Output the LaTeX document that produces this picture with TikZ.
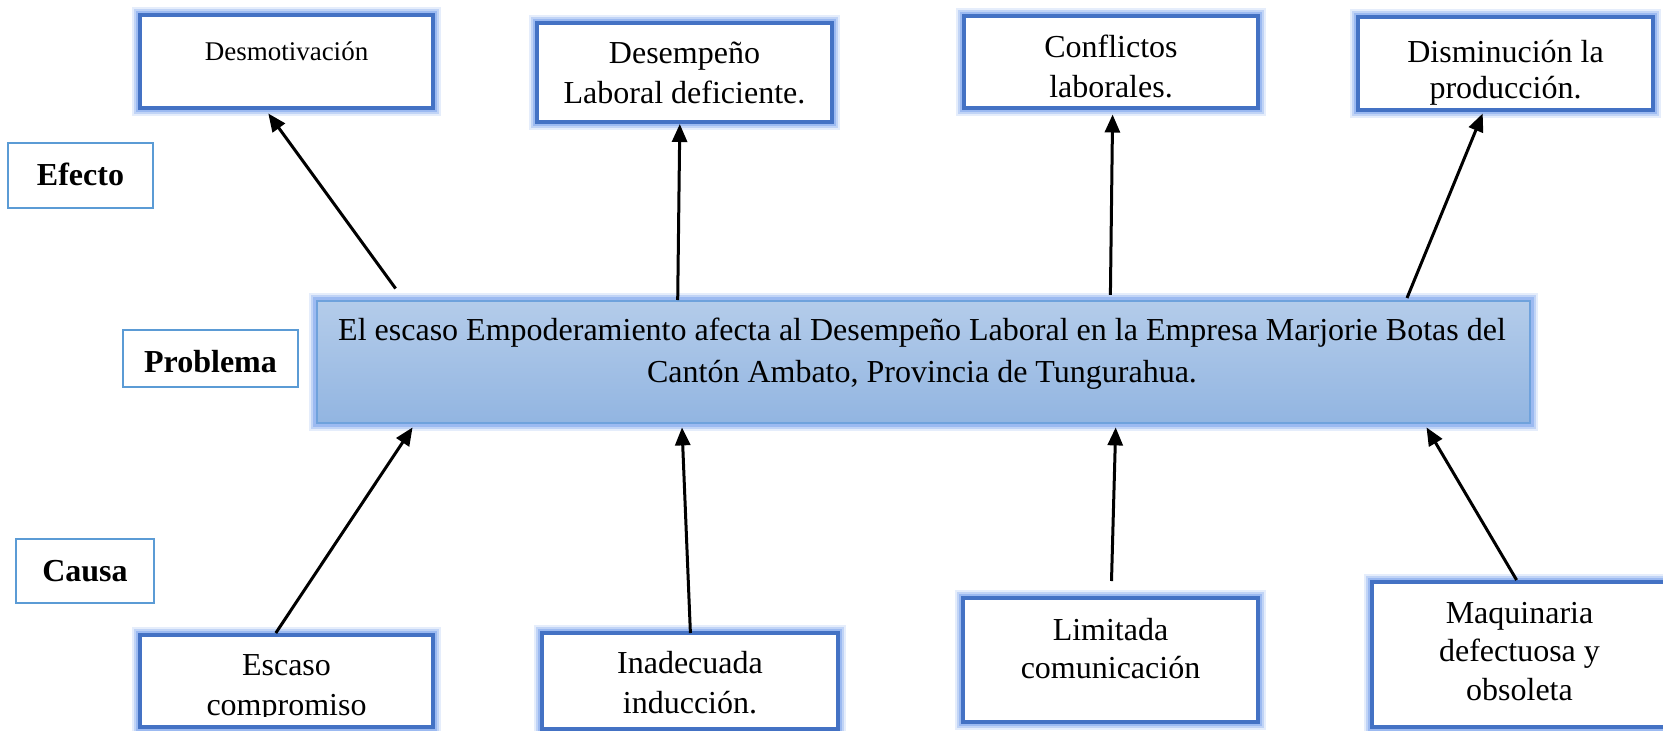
\documentclass[tikz,border=0pt]{standalone}
\usepackage{fontspec}
\setmainfont{Liberation Serif}
\usetikzlibrary{arrows.meta}
\definecolor{boxblue}{HTML}{4472C4}
\definecolor{glowc}{HTML}{7FA6EE}
\definecolor{lblblue}{HTML}{5B9BD5}
\definecolor{probtop}{HTML}{B4CCEA}
\definecolor{probbot}{HTML}{92B5E1}
\definecolor{probedge}{HTML}{6FA2DC}
\begin{document}
\begin{tikzpicture}[x=1pt,y=-1pt,
 glow/.style={preaction={draw=glowc,line width=16pt,draw opacity=0.2},
              preaction={draw=glowc,line width=12pt,draw opacity=0.35},
              preaction={draw=glowc,line width=8pt,draw opacity=0.55}},
 cbox/.style={glow, draw=boxblue, line width=3.2pt, fill=white, inner sep=0pt, outer sep=0pt},
 lbox/.style={draw=lblblue, line width=2.4pt, fill=white, inner sep=0pt},
 pbox/.style={glow, draw=probedge, line width=2pt, top color=probtop, bottom color=probbot, inner sep=0pt},
 txt/.style={anchor=base, inner sep=0pt, font=\fontsize{32}{38}\selectfont},
 stxt/.style={anchor=base, inner sep=0pt, font=\fontsize{27}{32}\selectfont},
 btxt/.style={anchor=base, inner sep=0pt, font=\fontsize{32}{38}\selectfont\bfseries},
 arr/.style={line width=3pt, -{Triangle[length=18pt,width=15pt]}}]
\useasboundingbox (0,0) rectangle (1663,731);
\fill[white] (0,0) rectangle (1663,731);

% effect boxes
\node[cbox, minimum width=293pt, minimum height=93pt] (desmo) at (286.5,61.5) {};
\node[cbox, minimum width=295pt, minimum height=99pt] (desemp) at (684.5,72.5) {};
\node[cbox, minimum width=294pt, minimum height=92pt] (confl) at (1111,62) {};
\node[cbox, minimum width=295pt, minimum height=93pt] (dismi) at (1505.5,63.5) {};

% cause boxes
\node[cbox, minimum width=293pt, minimum height=92pt] (escaso) at (286.5,681) {};
\node[cbox, minimum width=296pt, minimum height=96pt] (inade) at (690,681) {};
\node[cbox, minimum width=295pt, minimum height=124pt] (limit) at (1110.5,660) {};
\node[cbox, minimum width=295pt, minimum height=145pt] (maqui) at (1519.5,654.5) {};

% problem box
\node[pbox, minimum width=1213pt, minimum height=122pt] (prob) at (923.5,362) {};

% label boxes
\node[lbox, minimum width=145pt, minimum height=65pt] (efecto) at (80.5,175.5) {};
\node[lbox, minimum width=175pt, minimum height=57pt] (problema) at (210.5,358.5) {};
\node[lbox, minimum width=138pt, minimum height=64pt] (causa) at (85,571) {};

% texts
\node[stxt] (desmo-t) at (286.5,60) {Desmotivación};
\node[txt] (desemp-t1) at (684.5,63) {Desempeño};
\node[txt] (desemp-t2) at (684.5,103) {Laboral deficiente.};
\node[txt] (confl-t1) at (1111,57) {Conflictos};
\node[txt] (confl-t2) at (1111,97) {laborales.};
\node[txt] (dismi-t1) at (1505.5,62) {Disminución la};
\node[txt] (dismi-t2) at (1505.5,98) {producción.};
\begin{scope}
\clip (140,635) rectangle (433,716);
\node[txt] (escaso-t1) at (286.5,675) {Escaso};
\node[txt] (escaso-t2) at (286.5,715) {compromiso};
\end{scope}
\node[txt] (inade-t1) at (690,673) {Inadecuada};
\node[txt] (inade-t2) at (690,713) {inducción.};
\node[txt] (limit-t1) at (1110.5,640) {Limitada};
\node[txt] (limit-t2) at (1110.5,678) {comunicación};
\node[txt] (maqui-t1) at (1519.5,623) {Maquinaria};
\node[txt] (maqui-t2) at (1519.5,661) {defectuosa y};
\node[txt] (maqui-t3) at (1519.5,700) {obsoleta};
\node[txt] (prob-t1) at (922,340) {El escaso Empoderamiento afecta al Desempeño Laboral en la Empresa Marjorie Botas del};
\node[txt] (prob-t2) at (922,382) {Cantón Ambato, Provincia de Tungurahua.};
\node[btxt] (efecto-t) at (80.5,185) {Efecto};
\node[btxt] (problema-t) at (210.5,372) {Problema};
\node[btxt] (causa-t) at (85,581) {Causa};

% arrow end points
\coordinate (a1s) at (395.6,288.5);  \coordinate (a1e) at (268.3,113.5);
\coordinate (a2s) at (677.7,300);    \coordinate (a2e) at (679.8,124);
\coordinate (a3s) at (1110.4,294.8); \coordinate (a3e) at (1112.6,114.5);
\coordinate (a4s) at (1407,298);     \coordinate (a4e) at (1482.7,113.5);
\coordinate (a5s) at (275.8,633);    \coordinate (a5e) at (412.6,427.4);
\coordinate (a6s) at (690.4,633);    \coordinate (a6e) at (682,427.4);
\coordinate (a7s) at (1111.5,581);   \coordinate (a7e) at (1115.7,427.4);
\coordinate (a8s) at (1516.6,580);   \coordinate (a8e) at (1426.5,427.4);

\foreach \i in {1,...,8} {\draw[arr] (a\i s) -- (a\i e);}
\end{tikzpicture}
\end{document}
